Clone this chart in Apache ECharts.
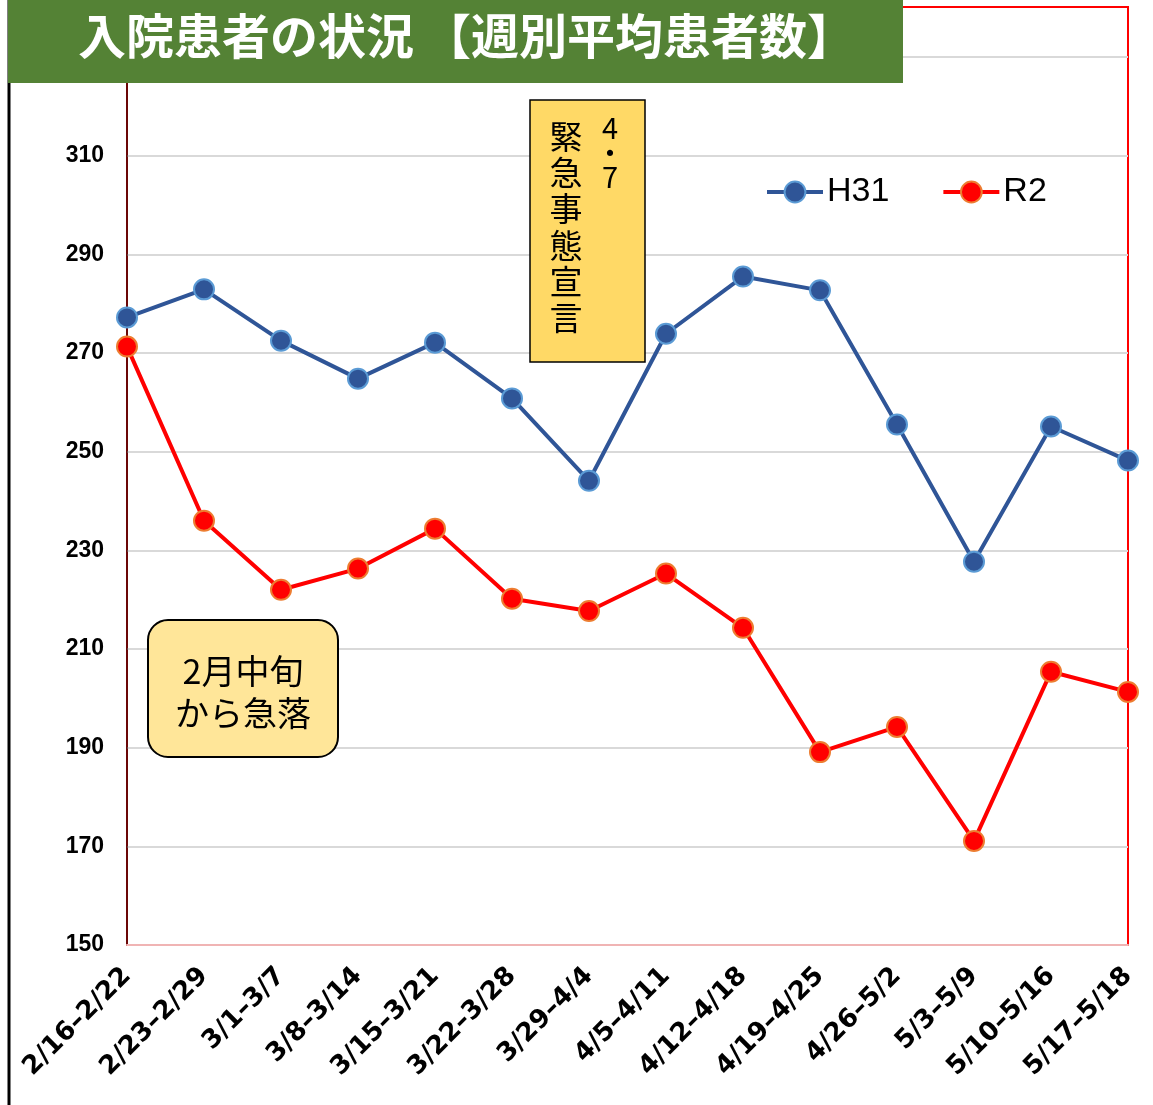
<!DOCTYPE html>
<html><head><meta charset="utf-8">
<script src="https://cdn.jsdelivr.net/npm/echarts@6/dist/echarts.min.js"></script>
<style>html,body{margin:0;padding:0;background:#fff}#c{width:1153px;height:1105px}</style>
</head><body><div id="c"></div>
<script>
const categories = ['2/16–2/22','2/23–2/29','3/1–3/7','3/8–3/14','3/15–3/21','3/22–3/28','3/29–4/4','4/5–4/11','4/12–4/18','4/19–4/25','4/26–5/2','5/3–5/9','5/10–5/16','5/17–5/18'];
const h31 = [277.2, 282.9, 272.5, 264.8, 272.1, 260.8, 244.1, 273.9, 285.5, 282.7, 255.5, 227.7, 255.1, 248.2];
const r2 = [271.3, 236.0, 222.0, 226.3, 234.4, 220.2, 217.7, 225.3, 214.3, 189.1, 194.2, 171.1, 205.4, 201.3];
const yTicks = {min: 150, max: 330, interval: 20};
const titleA = '入院患者の状況';
const titleB = '【週別平均患者数】';
const note1 = '緊\n急\n事\n態\n宣\n言';
const note1b = '4\n・\n7';
const note2 = '2月中旬\nから急落';

const chart = echarts.init(document.getElementById('c'));
const jp = '"Noto Sans CJK JP", sans-serif';
const sans = '"Liberation Sans", Arial, sans-serif';
chart.setOption({
  animation: false,
  grid: {left: 127, right: 25, top: 57, bottom: 160, containLabel: false},
  legend: {
    left: 760, top: 170, itemWidth: 56, itemHeight: 26, itemGap: 52,
    lineStyle: {width: 4},
    textStyle: {fontSize: 34, color: '#000', fontFamily: sans, padding: [0,0,0,-1]},
    data: ['H31', 'R2']
  },
  xAxis: {
    type: 'category', data: categories, boundaryGap: false,
    axisLine: {show: true, lineStyle: {color: '#f0b4b4', width: 2}},
    axisTick: {show: false},
    axisLabel: {rotate: 45, fontSize: 26, fontWeight: 'bold', color: '#000', margin: 27, interval: 0,
      fontFamily: '"DejaVu Sans", sans-serif'},
    splitLine: {show: false}
  },
  yAxis: {
    type: 'value', min: yTicks.min, max: yTicks.max, interval: yTicks.interval,
    axisLine: {show: true, lineStyle: {color: '#3a0a0a', width: 1.5}},
    axisTick: {show: false},
    axisLabel: {fontSize: 23, fontWeight: 'bold', color: '#000', margin: 23, fontFamily: sans},
    splitLine: {show: true, lineStyle: {color: '#d9d9d9', width: 2}}
  },
  series: [
    {name: 'H31', type: 'line', data: h31, symbol: 'circle', symbolSize: 20, z: 3,
      lineStyle: {color: '#2F5597', width: 4},
      itemStyle: {color: '#2F5597', borderColor: '#5B9BD5', borderWidth: 2}},
    {name: 'R2', type: 'line', data: r2, symbol: 'circle', symbolSize: 20, z: 3,
      lineStyle: {color: '#FF0000', width: 4},
      itemStyle: {color: '#FF0000', borderColor: '#ED7D31', borderWidth: 2}}
  ],
  graphic: [
    {type: 'rect', z: 0, silent: true, shape: {x: 127, y: 7, width: 1001, height: 938},
      style: {fill: 'none', stroke: '#FF0000', lineWidth: 2}},
    {type: 'line', z: 100, shape: {x1: 9, y1: 0, x2: 9, y2: 1105}, style: {stroke: '#000', lineWidth: 3}},
    {type: 'rect', z: 101, shape: {x: 8, y: 0, width: 895, height: 83}, style: {fill: '#548235'}},
    {type: 'text', z: 102, x: 78, y: 36, style: {text: titleA, fill: '#fff', fontSize: 48, fontWeight: 'bold',
      fontFamily: jp, verticalAlign: 'middle'}},
    {type: 'text', z: 102, x: 423, y: 36, style: {text: titleB, fill: '#fff', fontSize: 48, fontWeight: 'bold',
      fontFamily: jp, verticalAlign: 'middle'}},
    {type: 'rect', z: 50, shape: {x: 530, y: 100, width: 115, height: 262},
      style: {fill: '#FFD966', stroke: '#000', lineWidth: 1.5}},
    {type: 'text', z: 51, x: 566, y: 118, style: {text: note1, fill: '#000', fontSize: 33, lineHeight: 36.3,
      fontFamily: jp, align: 'center', verticalAlign: 'top'}},
    {type: 'text', z: 51, x: 610, y: 116, style: {text: note1b, fill: '#000', fontSize: 29, lineHeight: 24.5,
      fontFamily: jp, align: 'center', verticalAlign: 'top'}},
    {type: 'rect', z: 50, shape: {x: 148, y: 620, width: 190, height: 137, r: 20},
      style: {fill: '#FFE699', stroke: '#000', lineWidth: 2}},
    {type: 'text', z: 51, x: 243, y: 692, style: {text: note2, fill: '#000', fontSize: 34, lineHeight: 42,
      fontFamily: jp, align: 'center', verticalAlign: 'middle'}}
  ]
});
</script></body></html>
